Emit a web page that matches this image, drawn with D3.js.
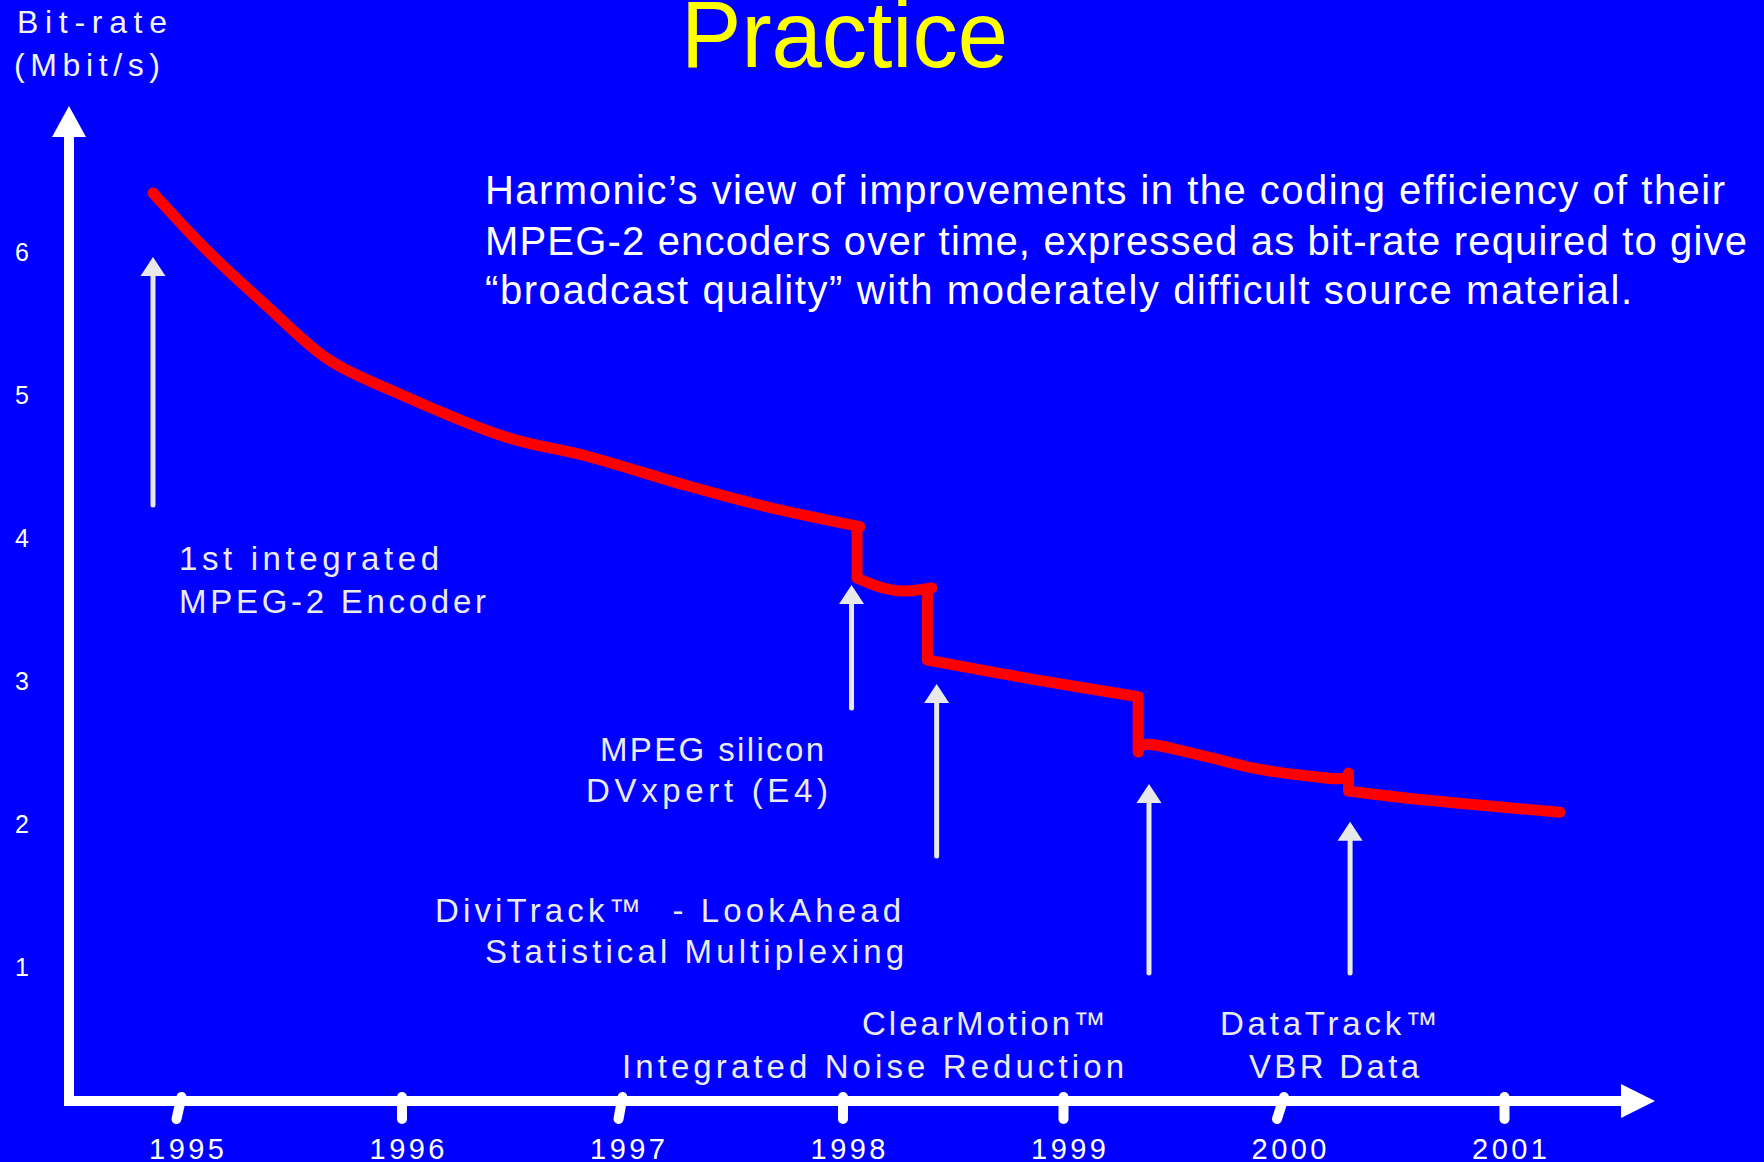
<!DOCTYPE html>
<html>
<head>
<meta charset="utf-8">
<script src="https://cdn.jsdelivr.net/npm/d3@7"></script>
<style>
  html, body { margin: 0; padding: 0; background: #0000ff; }
  svg { display: block; }
  text { font-family: "Liberation Sans", Arial, sans-serif; }
</style>
</head>
<body>
<svg id="chart" width="1764" height="1162"></svg>
<script>
// ---- data ----
const years = [1995, 1996, 1997, 1998, 1999, 2000, 2001];
const rateTicks = [1, 2, 3, 4, 5, 6];

// Required bit-rate (Mbit/s) over time; steps mark new encoder technology
const curveYear = [
  1994.873, 1995.116, 1995.376, 1995.671, 1995.984, 1996.469, 1996.851, 1997.285,
  1997.656, 1998.079, 1998.066, 1998.066,
  1998.184, 1998.274, 1998.406, 1998.385, 1998.385,
  1998.714, 1998.865, 1999.341, 1999.341, 1999.358,
  1999.621, 1999.848, 2000.075, 2000.279, 2000.295, 2000.295,
  2000.528, 2000.831, 2001.254
];
const curveRate = [
  6.415, 6.016, 5.643, 5.247, 5.014, 4.710, 4.570, 4.372,
  4.220, 4.080, 4.078, 3.722,
  3.652, 3.631, 3.652, 3.645, 3.148,
  3.055, 3.013, 2.891, 2.504, 2.553,
  2.483, 2.397, 2.343, 2.325, 2.357, 2.232,
  2.188, 2.141, 2.083
];

// Technology milestones: arrow position (year) and arrow extent (Mbit/s)
const eventYear = [1994.873, 1998.041, 1998.427, 1999.390, 2000.302];
const eventTip  = [5.967, 3.673, 2.980, 2.281, 2.017];
const eventTail = [4.232, 2.812, 1.777, 0.958, 0.958];
const eventLabels = [
  ["1st integrated", "MPEG-2 Encoder"],
  ["MPEG silicon", "DVxpert (E4)"],
  ["DiviTrack\u2122  - LookAhead", "Statistical Multiplexing"],
  ["ClearMotion\u2122", "Integrated Noise Reduction"],
  ["DataTrack\u2122", "VBR Data"]
];

const titleText = "Practice";
const yAxisTitle = ["Bit-rate", "(Mbit/s)"];
const descLines = [
  "Harmonic\u2019s view of improvements in the coding efficiency of their",
  "MPEG-2 encoders over time, expressed as bit-rate required to give",
  "\u201Cbroadcast quality\u201D with moderately difficult source material."
];

// ---- layout ----
const W = 1764, H = 1162;
const axisX = 69, axisY = 1101, axisTop = 137, axisRight = 1622;
// label blocks: [x, baseline, textLength] per line
const labelLayout = [
  [[179, 570, 260], [179, 613, 307]],
  [[600, 761, 224], [586, 802, 242]],
  [[435, 922, 466], [485, 963, 419]],
  [[862, 1035, 244], [622, 1078, 502]],
  [[1220, 1035, 218], [1249, 1078, 170]]
];
const descLayout = [[485, 204, 1240], [485, 255, 1262], [485, 304, 1147]];
const tickSlant = {1995: -5, 1997: -4, 2000: -7};

const svg = d3.select("#chart");
svg.append("rect").attr("width", W).attr("height", H).attr("fill", "#0000ff");

const x = d3.scaleLinear().domain([1995, 2001]).range([181, 1504]);
const y = d3.scaleLinear().domain([0, 6]).range([1110, 252.3]);

// Title
svg.append("text")
  .attr("x", 681).attr("y", 67)
  .attr("font-size", 94).attr("fill", "#ffff00")
  .attr("textLength", 327).attr("lengthAdjust", "spacingAndGlyphs")
  .text(titleText);

// Description
svg.append("g").selectAll("text").data(descLines).join("text")
  .attr("x", (d, i) => descLayout[i][0])
  .attr("y", (d, i) => descLayout[i][1])
  .attr("textLength", (d, i) => descLayout[i][2])
  .attr("lengthAdjust", "spacing")
  .attr("font-size", 40).attr("fill", "#ffffff")
  .text(d => d);

// Y axis title
svg.append("g").selectAll("text").data(yAxisTitle).join("text")
  .attr("x", (d, i) => i === 0 ? 17 : 14)
  .attr("y", (d, i) => i === 0 ? 33 : 76)
  .attr("textLength", (d, i) => i === 0 ? 150 : 146)
  .attr("lengthAdjust", "spacing")
  .attr("font-size", 32).attr("fill", "#f2f2f2")
  .text(d => d);

// Axis lines with arrowheads
svg.append("path")
  .attr("d", `M${axisX},${axisTop} L${axisX},${axisY} L${axisRight},${axisY}`)
  .attr("fill", "none").attr("stroke", "#ffffff").attr("stroke-width", 10)
  .attr("stroke-linejoin", "miter");
svg.append("path")
  .attr("d", `M${axisX},106 L${axisX - 17},${axisTop} L${axisX + 17},${axisTop} Z`)
  .attr("fill", "#ffffff");
svg.append("path")
  .attr("d", `M1655,${axisY} L${axisRight - 1},${axisY - 17} L${axisRight - 1},${axisY + 17} Z`)
  .attr("fill", "#ffffff");

// Y axis tick labels
const yAxis = svg.append("g")
  .attr("transform", `translate(${axisX},0)`)
  .call(d3.axisLeft(y).tickValues(rateTicks).tickSize(0).tickPadding(40).tickFormat(d3.format("d")));
yAxis.select(".domain").remove();
yAxis.selectAll("text")
  .attr("font-family", "'Liberation Sans', Arial, sans-serif")
  .attr("font-size", 25).attr("fill", "#ffffff");

// X axis ticks and year labels
const xAxis = svg.append("g")
  .attr("transform", `translate(0,${axisY})`)
  .call(d3.axisBottom(x).tickValues(years).tickSize(18).tickFormat(d3.format("d")));
xAxis.select(".domain").remove();
xAxis.selectAll(".tick line")
  .attr("y1", -4).attr("y2", 18)
  .attr("x1", 0).attr("x2", d => tickSlant[d] || 0)
  .attr("stroke", "#ffffff").attr("stroke-width", 10).attr("stroke-linecap", "round");
xAxis.selectAll(".tick text")
  .attr("x", 5).attr("y", 58).attr("dy", 0)
  .attr("font-family", "'Liberation Sans', Arial, sans-serif")
  .attr("font-size", 29).attr("fill", "#ffffff")
  .attr("textLength", 75).attr("lengthAdjust", "spacing");

// Milestone arrows
const arrows = svg.append("g");
eventYear.forEach((yr, i) => {
  const ax = x(yr), tip = y(eventTip[i]), tail = y(eventTail[i]);
  arrows.append("line")
    .attr("x1", ax).attr("x2", ax).attr("y1", tip + 15).attr("y2", tail)
    .attr("stroke", "#e8e8e8").attr("stroke-width", 5).attr("stroke-linecap", "round");
  arrows.append("path")
    .attr("d", `M${ax},${tip} L${ax - 12.5},${tip + 19} L${ax + 12.5},${tip + 19} Z`)
    .attr("fill", "#e8e8e8");
});

// Milestone labels
const labels = svg.append("g");
eventLabels.forEach((lines, i) => {
  lines.forEach((t, j) => {
    const [lx, ly, len] = labelLayout[i][j];
    labels.append("text")
      .attr("x", lx).attr("y", ly)
      .attr("textLength", len).attr("lengthAdjust", "spacing")
      .attr("font-size", 33).attr("fill", "#ebebeb")
      .style("white-space", "pre")
      .text(t);
  });
});

// Bit-rate curve: smooth runs joined by the vertical steps
const pts = curveYear.map((yr, i) => [yr, curveRate[i]]);
const runs = [];
pts.forEach((p, i) => {
  if (i === 0 || p[0] - pts[i - 1][0] <= 0.001) runs.push([p]);
  else runs[runs.length - 1].push(p);
});
const smooth = d3.line().x(d => x(d[0])).y(d => y(d[1])).curve(d3.curveCatmullRom.alpha(0.5));
const pathD = runs.map((r, i) => {
  if (r.length === 1) return `${i === 0 ? "M" : "L"}${x(r[0][0])},${y(r[0][1])}`;
  const s = smooth(r);
  return i === 0 ? s : s.replace(/^M/, "L");
}).join("");
svg.append("path")
  .attr("d", pathD)
  .attr("fill", "none").attr("stroke", "#ff0000").attr("stroke-width", 11)
  .attr("stroke-linejoin", "round").attr("stroke-linecap", "round");
</script>
</body>
</html>
